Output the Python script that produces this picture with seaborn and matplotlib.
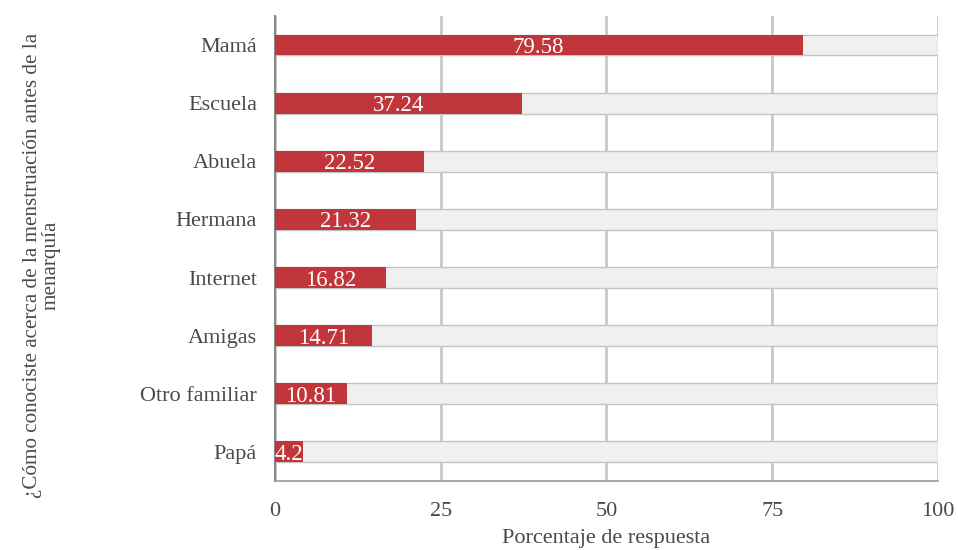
import matplotlib as mpl
import matplotlib.pyplot as plt
from matplotlib.ticker import MultipleLocator
import pandas as pd
import seaborn as sns

categorias = ['Mamá', 'Escuela', 'Abuela', 'Hermana', 'Internet', 'Amigas',
              'Otro familiar', 'Papá']
porcentajes = [79.58, 37.24, 22.52, 21.32, 16.82, 14.71, 10.81, 4.2]
etiquetas = ['79.58', '37.24', '22.52', '21.32', '16.82', '14.71', '10.81', '4.2']
total = [100] * len(categorias)

df = pd.DataFrame({'Fuente': categorias, 'Porcentaje': porcentajes, 'Total': total})

sns.set_style('white')
plt.rcParams['font.family'] = ['Liberation Serif', 'DejaVu Serif']
text_color = '#4a4a4a'
grid_color = '#c8c8c8'
red = '#c1363a'

fig = plt.figure(figsize=(9.58, 5.5), dpi=100)
ax = fig.add_axes([0.287, 0.1255, 0.692, 0.8455])

# grey background bars up to 100
sns.barplot(data=df, y='Fuente', x='Total', color='#f0f0f0', edgecolor='#c4c4c4',
            linewidth=1, width=0.36, orient='h', ax=ax, zorder=2)
# actual values
sns.barplot(data=df, y='Fuente', x='Porcentaje', color=red, edgecolor='none',
            linewidth=0, width=0.36, orient='h', ax=ax, zorder=3, saturation=1)

for i, (v, lab) in enumerate(zip(porcentajes, etiquetas)):
    ax.text(v / 2, i, lab, ha='center', va='center_baseline', color='white',
            fontsize=16.5, zorder=4)

ax.set_xlim(0, 100)
ax.set_ylim(7.5, -0.5)
ax.xaxis.set_major_locator(MultipleLocator(25))
ax.xaxis.set_minor_locator(MultipleLocator(5))
ax.grid(axis='x', which='major', color=grid_color, linewidth=2, zorder=1)
ax.set_axisbelow(True)
ax.tick_params(axis='x', which='major', length=0, labelsize=16, labelcolor=text_color, pad=15)
ax.tick_params(axis='x', which='minor', direction='in', length=5, width=1, color='#999999')
ax.tick_params(axis='y', length=0, labelsize=16, labelcolor=text_color, pad=13)

for s in ['top', 'right']:
    ax.spines[s].set_visible(False)
ax.spines['left'].set_color('#888888')
ax.spines['left'].set_linewidth(1.5)
ax.spines['bottom'].set_color('#999999')
ax.spines['bottom'].set_linewidth(1.2)

ax.set_xlabel('Porcentaje de respuesta', fontsize=16, color=text_color, labelpad=6)
ax.set_ylabel('¿Cómo conociste acerca de la menstruación antes de la\nmenarquía',
              fontsize=15.2, color=text_color, va='center', ha='center',
              linespacing=0.95)
ax.yaxis.set_label_coords(-0.352, 0.463)

fig.savefig('out.png', dpi=100)
